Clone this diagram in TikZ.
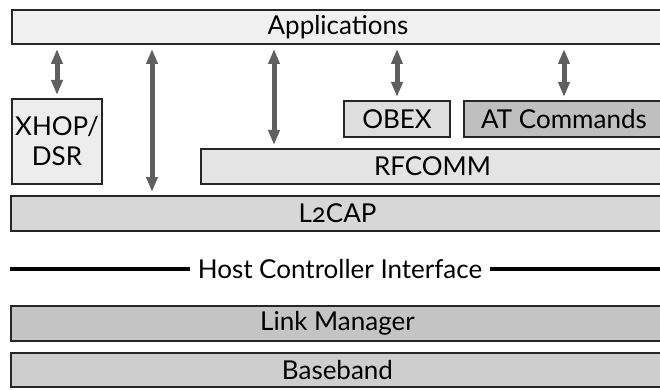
\documentclass[tikz,border=0pt]{standalone}
\usepackage{fontspec}
\setmainfont{Lato}[Numbers=OldStyle]
\usetikzlibrary{calc,arrows.meta}

\definecolor{edgegray}{HTML}{262626}
\definecolor{arrowgray}{HTML}{5F5F5F}

\tikzset{
  layer/.style={draw=edgegray,rectangle,line width=2pt,inner sep=0pt,minimum height=35pt},
  updown/.style={{Triangle[length=15pt,width=11pt]}-{Triangle[length=15pt,width=11pt]},
    draw=arrowgray,line width=5pt,shorten <=4pt,shorten >=3pt},
}

\begin{document}
\begin{tikzpicture}[x=1pt,y=-1pt,font=\fontsize{26}{30}\selectfont]
\useasboundingbox (0,0) rectangle (660,390);
\clip (0,0) rectangle (660,390);

\draw node [layer,fill={rgb,255:red,240;green,240;blue,240},minimum width=652pt,minimum height=34pt](apps) at (338,27){Applications};

\draw node [layer,fill={rgb,255:red,237;green,237;blue,237},minimum width=90pt,minimum height=85pt,align=center](xhop) at (57,141.5){XHOP/\\DSR};

\draw node [layer,fill={rgb,255:red,222;green,222;blue,222},minimum width=106pt,minimum height=36pt](obex) at (397,119){OBEX};
\draw node [layer,fill={rgb,255:red,191;green,191;blue,191},minimum width=200pt,minimum height=36pt](atcmd) at (564,119){AT Commands};

\draw node [layer,fill={rgb,255:red,228;green,228;blue,228},minimum width=463pt](rfcomm) at (432.5,166.5){RFCOMM};

\draw node [layer,fill={rgb,255:red,215;green,215;blue,215},minimum width=653pt](l2cap) at (337.5,213.5){L2CAP};

\draw node [inner sep=8pt](hci) at (340,269){Host Controller Interface};
\draw[line width=3.5pt] (l2cap.west |- hci) -- (hci.west);
\draw[line width=3.5pt] (hci.east) -- (l2cap.east |- hci);

\draw node [layer,fill={rgb,255:red,196;green,196;blue,196},minimum width=653pt](lm) at (337.5,323.5){Link Manager};

\draw node [layer,fill={rgb,255:red,206;green,206;blue,206},minimum width=653pt,minimum height=34pt](bb) at (337.5,370){Baseband};

\coordinate (direct) at (152,0);
\coordinate (rfup) at (274,0);

\draw[updown] (apps.south -| xhop) -- (xhop.north);
\draw[updown] (apps.south -| direct) -- (l2cap.north -| direct);
\draw[updown] (apps.south -| rfup) -- (rfcomm.north -| rfup);
\draw[updown] (apps.south -| obex) -- (obex.north);
\draw[updown] (apps.south -| atcmd) -- (atcmd.north);

\end{tikzpicture}
\end{document}
